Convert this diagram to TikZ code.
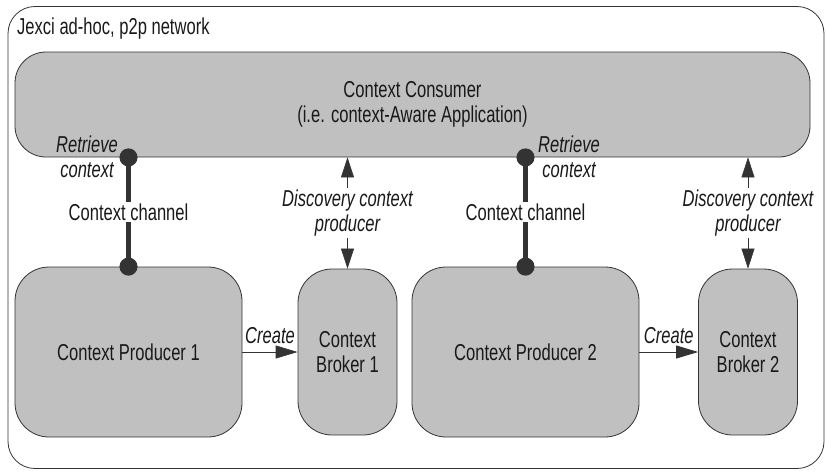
\documentclass[tikz,border=0pt]{standalone}
\usepackage{fontspec}
\setmainfont{Liberation Sans}[FakeStretch=0.72]
\usetikzlibrary{arrows.meta}
\definecolor{boxgray}{RGB}{192,192,192}
\definecolor{inkgray}{RGB}{51,51,51}

\begin{document}
\begin{tikzpicture}[
        x=1pt, y=-1pt,
        font=\fontsize{23}{25.5}\selectfont,
        text=black!90,
        box/.style={
            draw=inkgray,
            fill=boxgray,
            line width=0.8pt,
            align=center,
            inner sep=0pt
        },
        channel/.style={
            draw=inkgray,
            line width=5pt,
            shorten <=-9pt,
            shorten >=-9pt,
            {Circle[length=18pt]}-{Circle[length=18pt]}
        },
        discover/.style={
            draw=inkgray,
            line width=0.6pt,
            {Triangle[length=20pt,width=13pt]}-{Triangle[length=20pt,width=13pt]}
        },
        create/.style={
            draw=inkgray,
            line width=0.8pt,
            -{Triangle[length=22pt,width=13pt]}
        },
        tag/.style={fill=white, align=center, inner sep=2pt},
        act/.style={align=center, inner sep=0pt, font=\fontsize{23}{25.5}\selectfont\itshape}
    ]
        \useasboundingbox (0,0) rectangle (827,472);

        \node[draw=inkgray, line width=0.8pt, rounded corners=27pt,
              minimum width=816pt, minimum height=462pt, inner sep=0pt]
            (net) at (416,237.5) {};
        \node[anchor=west, inner sep=0pt] (netname) at (17,29)
            {Jexci ad-hoc, p2p network};

        \node[box, rounded corners=31pt, minimum width=795pt, minimum height=105pt]
            (cons) at (412.5,104.5)
            {Context Consumer\\(i.e. context-Aware Application)};

        \node[box, rounded corners=34pt, minimum width=227pt, minimum height=170pt]
            (prod1) at (128.5,352) {Context Producer 1};
        \node[box, rounded corners=34pt, minimum width=99pt, minimum height=166pt]
            (brok1) at (347.5,352) {Context\\Broker 1};
        \node[box, rounded corners=34pt, minimum width=227pt, minimum height=170pt]
            (prod2) at (525.5,352) {Context Producer 2};
        \node[box, rounded corners=34pt, minimum width=99pt, minimum height=166pt]
            (brok2) at (748,352) {Context\\Broker 2};

        % context channels
        \draw[channel] (prod1.north |- cons.south) -- node[tag] {Context channel} (prod1.north);
        \draw[channel] (prod2.north |- cons.south) -- node[tag] {Context channel} (prod2.north);
        \node[act] (ret1) at (87,157) {Retrieve\\context};
        \node[act] (ret2) at (569,157) {Retrieve\\context};

        % discovery
        \draw[discover] (brok1.north |- cons.south) -- node[tag, font=\fontsize{23}{25.5}\selectfont\itshape] {Discovery context\\producer} (brok1.north);
        \draw[discover] (brok2.north |- cons.south) -- node[tag, font=\fontsize{23}{25.5}\selectfont\itshape] {Discovery context\\producer} (brok2.north);

        % create
        \draw[create] (prod1.east) -- node[act, above=8pt] {Create} (brok1.west);
        \draw[create] (prod2.east) -- node[act, above=8pt] {Create} (brok2.west);
    \end{tikzpicture}
\end{document}
